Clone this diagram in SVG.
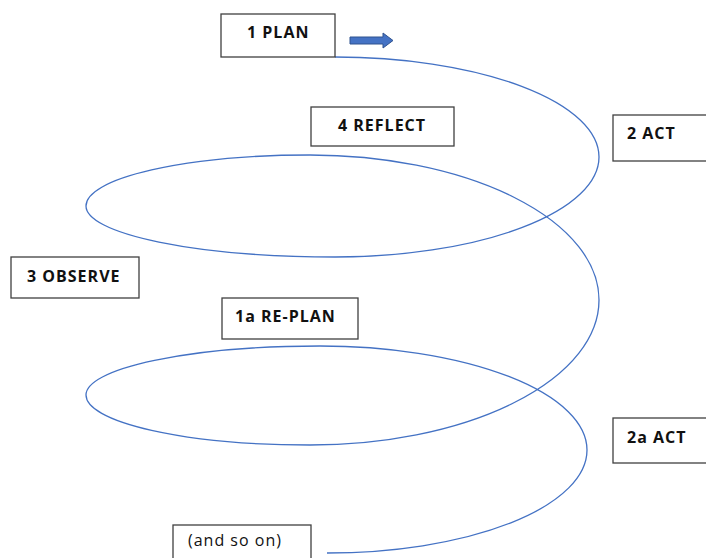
<svg xmlns="http://www.w3.org/2000/svg" width="706" height="558" viewBox="0 0 706 558">
<style>
.box{fill:#fff;stroke:#404040;stroke-width:1.3}
.lbl{font-family:"Open Sans","Liberation Sans",sans-serif;font-weight:700;font-size:16px;letter-spacing:1px;fill:#111}
.plain{font-family:"Open Sans","Liberation Sans",sans-serif;font-weight:400;font-size:16px;letter-spacing:1px;fill:#111}
.spiral{fill:none;stroke:#4472C4;stroke-width:1.3}
</style>
<rect width="706" height="558" fill="#fff"/>
<g id="connectors">
<path class="spiral" d="M335 57 A264 100 0 0 1 599 157 A264 100 0 0 1 335 257 A249 51 0 0 1 86 206 A224 51 0 0 1 310 155 A289 145 0 0 1 599 300 A289 145 0 0 1 310 445 A224 50 0 0 1 86 395 A234 49 0 0 1 320 346 A267 104 0 0 1 587 450 A260 103 0 0 1 327 553"/>
<polygon points="350,37 383,37 383,33 393,40.5 383,48 383,44 350,44" fill="#4472C4" stroke="#2F528F" stroke-width="1"/>
</g>
<g id="plan"><rect class="box" x="221" y="14" width="114" height="43"/><text class="lbl" x="247" y="38">1 PLAN</text></g>
<g id="reflect"><rect class="box" x="311" y="107" width="143" height="39"/><text class="lbl" x="338" y="131">4 REFLECT</text></g>
<g id="act"><rect class="box" x="613" y="115" width="110" height="46"/><text class="lbl" x="627" y="139">2 ACT</text></g>
<g id="observe"><rect class="box" x="11" y="257" width="128" height="41"/><text class="lbl" x="27" y="282">3 OBSERVE</text></g>
<g id="replan"><rect class="box" x="222" y="298" width="136" height="41"/><text class="lbl" x="235" y="322">1a RE-PLAN</text></g>
<g id="act2"><rect class="box" x="613" y="418" width="110" height="45"/><text class="lbl" x="627" y="443">2a ACT</text></g>
<g id="andsoon"><rect class="box" x="173" y="525" width="138" height="45"/><text class="plain" x="188" y="546">(and so on)</text></g>
</svg>
